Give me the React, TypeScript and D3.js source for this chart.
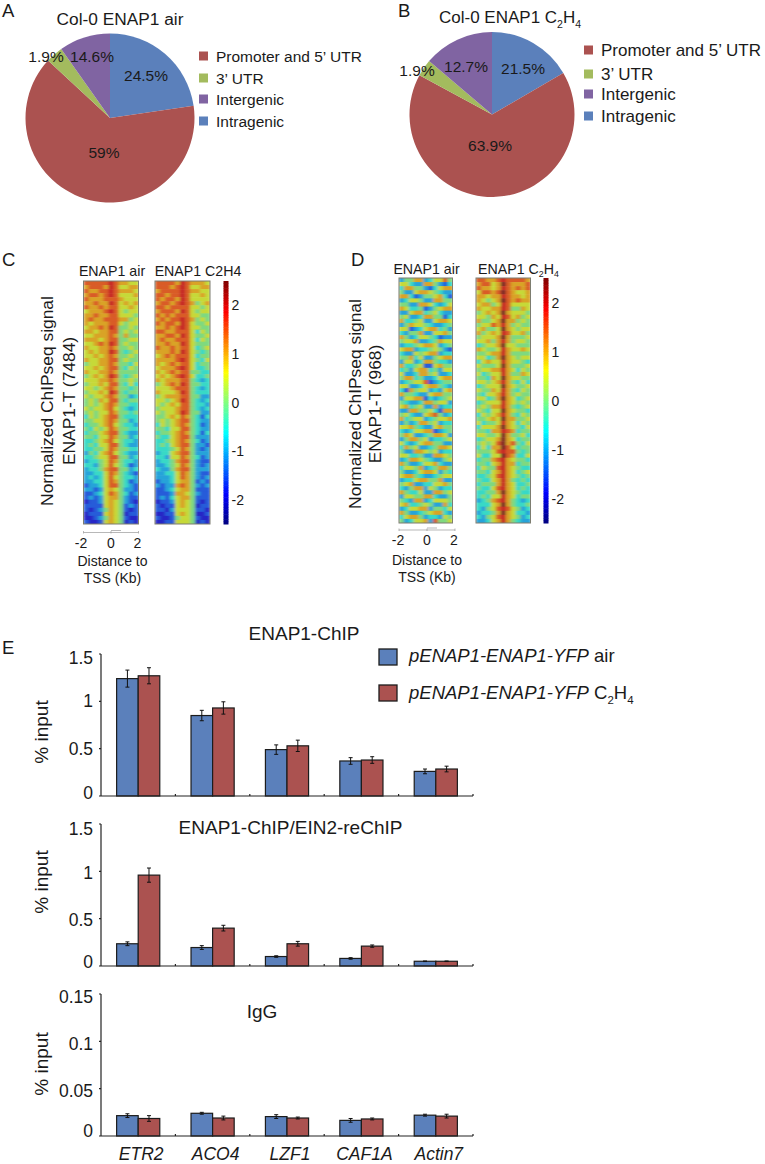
import React, { useEffect, useRef } from 'react';
import * as d3 from 'd3';

const FONT = '"Liberation Sans", Arial, sans-serif';

// pie slices as drawn (the printed labels do not match the drawn angles)
const sliceNames = ['Intragenic', 'Promoter and 5\u2019 UTR', '3\u2019 UTR', 'Intergenic'];
const sliceColors = ['#5b80bb', '#ab5250', '#a3bb5e', '#8064a2'];
const legendOrder = [1, 2, 3, 0];
const pieAShares = [22.7, 64.2, 3.3, 9.8];
const pieBShares = [16.6, 66.3, 3.3, 13.8];
const pieALabels = ['24.5%', '59%', '1.9%', '14.6%'];
const pieBLabels = ['21.5%', '63.9%', '1.9%', '12.7%'];

const genes = ['ETR2', 'ACO4', 'LZF1', 'CAF1A', 'Actin7'];
const chipAir = [1.24, 0.85, 0.49, 0.37, 0.26];
const chipAirErr = [0.09, 0.055, 0.05, 0.035, 0.025];
const chipEth = [1.27, 0.93, 0.53, 0.38, 0.285];
const chipEthErr = [0.085, 0.065, 0.06, 0.035, 0.03];
const rechipAir = [0.235, 0.195, 0.1, 0.08, 0.05];
const rechipAirErr = [0.02, 0.02, 0.008, 0.008, 0.003];
const rechipEth = [0.96, 0.4, 0.235, 0.21, 0.05];
const rechipEthErr = [0.075, 0.03, 0.025, 0.012, 0.003];
const iggAir = [0.0215, 0.024, 0.0205, 0.0165, 0.022];
const iggAirErr = [0.002, 0.001, 0.002, 0.002, 0.001];
const iggEth = [0.0185, 0.019, 0.019, 0.018, 0.021];
const iggEthErr = [0.003, 0.002, 0.001, 0.001, 0.002];

const distanceTicks = [-2, 0, 2];
const colorTicks = [-2, -1, 0, 1, 2];
const jetStops = ['#00007f', '#0000ff', '#007fff', '#00ffff', '#7fff7f', '#ffff00', '#ff7f00', '#ff0000', '#7f0000'];

// by-eye reading of the heatmaps, one string per row band, one char per column (-2 kb to +2 kb)
// char is a level: 0 = -2.5, 5 = 0, a = 2.5, steps of 0.5
const heatC1 = [
  '88888987766', '78887986677', '87788987776', '78878986667', '87778887666', '77877986767',
  '87787886676', '67778986566', '77877886665', '78778887756', '76777886566', '67787985565',
  '77677885656', '66777875755', '77767885566', '66787985655', '76677875565', '67677985456',
  '66767875565', '76677885655', '56677875546', '66767885465', '76677875555', '56767985456',
  '66677875565', '56676885464', '66567875545', '56676985455', '65667875534', '56576885455',
  '56567875544', '65667865434', '56566875545', '46567885444', '55667875534', '45567865443',
  '54656875544', '45567885433', '55466875534', '44567865443', '45466885433', '44556875544',
  '35467865433', '44566885534', '34456875443', '44356865423', '34457885534', '33446875432',
  '34346865443', '33446875423', '23346885432', '33236765332', '22346875423', '23236775322',
  '12236765321', '22226765232', '21235765212', '12226765122', '11235765211', '21126765121',
];
const heatC2 = [
  '88887987776', '88878986677', '78888987766', '88788986676', '87887986666', '78878987567',
  '88788886656', '78887986566', '87878886655', '78788987565', '87887986556', '77878986655',
  '88778886465', '77887986556', '78778886465', '77877986555', '87787886456', '77787986545',
  '67878886455', '77778986546', '76787886455', '67778986445', '76787885544', '67678986445',
  '76777885434', '56787985544', '66678885434', '76667985444', '56777885533', '66567985434',
  '65676885443', '56667885434', '65667985533', '55676875424', '56567885433', '46567875423',
  '55466885433', '45567875424', '54467885333', '44567875423', '45467885332', '44456875323',
  '34467885333', '44366875423', '34457885322', '33456875323', '43357885333', '33446875322',
  '33346875323', '23346775232', '32337875323', '22346775222', '22237765322', '23246775222',
  '12236765212', '21226765122', '22136665221', '11226765112', '21125665211', '11226665121',
];
const heatD1 = [
  '35577346685', '66433775324', '47755324677', '53367765433', '77423556742', '34665337755',
  '55337764346', '76445235677', '33677456433', '56334775524', '74456336776', '35766543345',
  '66234677453', '43557336675', '75346654233', '56673345766', '34456776345', '67734456532',
  '43365677344', '55746335677', '36634775443', '74456226755', '45367745366', '63347756334',
  '57745334677', '34566823455', '66334677543', '42756634367', '75543367755', '36677243456',
  '54334775663', '67456337344', '33775564277', '56433678534', '74566345667', '35347756344',
  '66754336755', '43466772345', '57633457763', '35775634456', '64346775533', '47563345776',
  '53377656344', '66445337765', '34776543356', '75334667433', '46657345775', '53346776354',
  '67754334566', '34467755733', '56733446675', '43577365344', '75446337756', '36655774335',
  '54377346665', '67445653374', '34667735546', '75334567743', '46775344365', '53466738556',
];
const heatD2 = [
  '88778988887', '78867a87778', '87767987878', '68878a87667', '77677987767', '76567a87877',
  '67756986666', '76677985576', '56767a76665', '66576986756', '75567a77565', '56687975655',
  '67556a76566', '75676986675', '56667a75556', '66757975665', '45667a66555', '76556976676',
  '55677975555', '66457a76566', '46766976654', '65556a75556', '56677976465', '64566975576',
  '55476a76655', '66567975464', '45666a76556', '65576975465', '54667975655', '66457a76456',
  '45666976565', '56577975456', '65466a76554', '46567975465', '55676a77556', '64556976465',
  '46667a76546', '55477987455', '66556a75564', '45667a76455', '56568a78546', '46477a86455',
  '55568988545', '64466a87446', '45578976554', '55467977455', '46558976544', '55467976456',
  '44568976545', '54467975454', '45557976445', '54468976454', '44557a76544', '45466976455',
  '34578975434', '44467a75445', '43568986534', '34457a76443', '43568976534', '33467975433',
];

const add = (g: any, x: number, y: number, str: string, size: number, anchor = 'start', italic = false) =>
  g.append('text')
    .attr('x', x).attr('y', y)
    .attr('font-size', size)
    .attr('text-anchor', anchor)
    .attr('font-style', italic ? 'italic' : 'normal')
    .attr('fill', '#1a1a1a')
    .text(str);

// C2H4 with lowered digits
const addChem = (t: any, size: number) => {
  const sub = (s: string) => t.append('tspan').attr('font-size', size * 0.62).attr('dy', size * 0.28).text(s);
  const up = (s: string) => t.append('tspan').attr('font-size', size).attr('dy', -size * 0.28).text(s);
  t.append('tspan').text('C');
  sub('2');
  up('H');
  sub('4');
};

const drawPie = (svg: any, cx: number, cy: number, r: number, shares: number[], labels: string[], labelPos: number[][], fontSize: number) => {
  const pie = d3.pie<number>().sort(null).value((d) => d);
  const arc = d3.arc<any>().innerRadius(0).outerRadius(r);
  const g = svg.append('g').attr('transform', `translate(${cx},${cy})`);
  g.selectAll('path').data(pie(shares)).enter().append('path')
    .attr('d', arc)
    .attr('fill', (_: any, i: number) => sliceColors[i]);
  labels.forEach((l, i) => add(g, labelPos[i][0], labelPos[i][1], l, fontSize, 'middle'));
};

const drawLegend = (svg: any, x: number, ys: number[], fontSize: number) => {
  legendOrder.forEach((s, i) => {
    svg.append('rect').attr('x', x).attr('y', ys[i] - 4.5).attr('width', 9).attr('height', 9).attr('fill', sliceColors[s]);
    add(svg, x + 17, ys[i] + fontSize * 0.36, sliceNames[s], fontSize);
  });
};

const jet = d3.scaleLinear<string>()
  .domain(jetStops.map((_, i) => -2.5 + (i * 5) / (jetStops.length - 1)))
  .range(jetStops)
  .clamp(true);

// the printed heatmaps look duller than their colorbar
const heatFill = (v: number) => d3.interpolateRgb(jet(v), '#7f7f7f')(0.3);

const drawHeat = (svg: any, x0: number, x1: number, y0: number, y1: number, rows: string[]) => {
  const cells = rows.map((r) => Array.from(r, (c) => (parseInt(c, 16) - 5) * 0.5));
  const x = d3.scaleBand<number>().domain(d3.range(cells[0].length)).range([x0, x1]);
  const y = d3.scaleBand<number>().domain(d3.range(cells.length)).range([y0, y1]);
  const clipId = `clip${Math.round(x0)}`;
  svg.append('clipPath').attr('id', clipId).append('rect')
    .attr('x', x0).attr('y', y0).attr('width', x1 - x0).attr('height', y1 - y0);
  const g = svg.append('g').attr('clip-path', `url(#${clipId})`).append('g').attr('filter', 'url(#soft)');
  cells.forEach((row, ri) => {
    row.forEach((v, ci) => {
      g.append('rect')
        .attr('x', x(ci)).attr('y', y(ri))
        .attr('width', x.bandwidth() + 0.5).attr('height', y.bandwidth() + 0.5)
        .attr('fill', heatFill(v));
    });
  });
  svg.append('rect').attr('x', x0).attr('y', y0).attr('width', x1 - x0).attr('height', y1 - y0)
    .attr('fill', 'none').attr('stroke', '#7d7d70').attr('stroke-width', 1);
};

const drawColorbar = (svg: any, x0: number, y0: number, y1: number) => {
  const y = d3.scaleLinear().domain([-2.5, 2.5]).range([y1, y0]);
  d3.range(-2.5, 2.5, 0.05).forEach((v) => {
    svg.append('rect').attr('x', x0).attr('width', 5)
      .attr('y', y(v + 0.05)).attr('height', y(v) - y(v + 0.05) + 0.5)
      .attr('fill', jet(v + 0.025));
  });
  colorTicks.forEach((t) => {
    const label = t < 0 ? `-${-t}` : `${t}`;
    add(svg, x0 + 8, y(t) + 5, label, 14);
  });
};

const drawDistance = (svg: any, x0: number, x1: number, axisY: number, labelXs: number[], textX: number, textDy: number) => {
  const x = d3.scaleLinear().domain([-2, 2]).range([x0, x1]);
  const g = svg.append('g').attr('stroke', '#999').attr('fill', 'none').attr('stroke-width', 0.7);
  g.append('line').attr('x1', x0).attr('x2', x1).attr('y1', axisY).attr('y2', axisY);
  distanceTicks.forEach((t) => {
    g.append('line').attr('x1', x(t)).attr('x2', x(t)).attr('y1', axisY - 1.5).attr('y2', axisY + 1);
  });
  g.append('line').attr('x1', x(0)).attr('x2', x(0) + 10).attr('y1', axisY - 2).attr('y2', axisY - 2);
  distanceTicks.forEach((t, i) => add(svg, labelXs[i], axisY + 15, `${t}`, 14, 'middle'));
  add(svg, textX, axisY + textDy, 'Distance to', 14, 'middle');
  add(svg, textX, axisY + textDy + 17, 'TSS (Kb)', 14, 'middle');
};

const rotated = (svg: any, x: number, y: number, str: string, size: number) =>
  svg.append('text')
    .attr('transform', `translate(${x},${y}) rotate(-90)`)
    .attr('text-anchor', 'middle')
    .attr('font-size', size)
    .attr('fill', '#1a1a1a')
    .text(str);

const drawBars = (
  svg: any, top: number, bottom: number, yMax: number, ticks: number[], labelNudge: number[],
  air: number[], airErr: number[], eth: number[], ethErr: number[],
) => {
  const x0 = d3.scaleBand<string>().domain(genes).range([101, 473]).paddingInner(0.42).paddingOuter(0.21);
  const y = d3.scaleLinear().domain([0, yMax]).range([bottom, top]);
  const w = x0.bandwidth() / 2;

  const series = [
    { vals: air, errs: airErr, color: sliceColors[0], dx: 0 },
    { vals: eth, errs: ethErr, color: sliceColors[1], dx: w },
  ];
  series.forEach((s) => {
    genes.forEach((gene, i) => {
      const bx = (x0(gene) as number) + s.dx;
      svg.append('rect')
        .attr('x', bx).attr('y', y(s.vals[i]))
        .attr('width', w).attr('height', bottom - y(s.vals[i]))
        .attr('fill', s.color).attr('stroke', '#1c1c1c').attr('stroke-width', 1.2);
    });
  });
  series.forEach((s) => {
    genes.forEach((gene, i) => {
      const cx = (x0(gene) as number) + s.dx + w / 2;
      const hi = y(s.vals[i] + s.errs[i]);
      const lo = y(s.vals[i] - s.errs[i]);
      const path = `M${cx - 2},${hi}H${cx + 2}M${cx},${hi}V${lo}M${cx - 2},${lo}H${cx + 2}`;
      svg.append('path').attr('d', path).attr('stroke', '#111').attr('stroke-width', 1).attr('fill', 'none');
    });
  });

  // axes
  const step = x0.step();
  const ax = svg.append('g').attr('stroke', '#222').attr('stroke-width', 1.2).attr('fill', 'none');
  ax.append('line').attr('x1', 101).attr('x2', 473).attr('y1', bottom).attr('y2', bottom);
  ax.append('line').attr('x1', 101).attr('x2', 101).attr('y1', top).attr('y2', bottom);
  genes.forEach((_, i) => {
    const tx = 101 + (i + 1) * step;
    ax.append('line').attr('x1', tx).attr('x2', tx).attr('y1', bottom).attr('y2', bottom - 2);
  });
  ticks.forEach((t, i) => {
    ax.append('line').attr('x1', 101).attr('x2', 99).attr('y1', y(t)).attr('y2', y(t));
    add(svg, 93, y(t) + 6 + labelNudge[i], `${t}`, 17.5, 'end');
  });
  return x0;
};

export default function App() {
  const svgRef = useRef<SVGSVGElement | null>(null);

  useEffect(() => {
    if (!svgRef.current) return;
    const svg = d3.select(svgRef.current);
    svg.selectAll('*').remove();
    svg.attr('font-family', FONT);

    const soft = svg.append('defs').append('filter').attr('id', 'soft')
      .attr('x', '-5%').attr('y', '-5%').attr('width', '110%').attr('height', '110%');
    soft.append('feGaussianBlur').attr('stdDeviation', '1.4 0.4');

    // panel letters
    add(svg, 2, 17, 'A', 18.5);
    add(svg, 398, 17, 'B', 18.5);
    add(svg, 2, 266, 'C', 18.5);
    add(svg, 351, 266, 'D', 18.5);
    add(svg, 2, 654, 'E', 18.5);

    // pies
    add(svg, 120, 25, 'Col-0 ENAP1 air', 17.3, 'middle');
    const titleB = add(svg, 439, 23, 'Col-0 ENAP1 ', 17);
    addChem(titleB, 17);
    drawPie(svg, 110, 118, 84.5, pieAShares, pieALabels, [[36, -37], [-6, 40], [-64, -56], [-18, -56]], 15.5);
    drawPie(svg, 492, 114.5, 82.5, pieBShares, pieBLabels, [[31, -41], [-2, 36], [-75, -39], [-26, -43]], 15.5);
    drawLegend(svg, 199, [56, 78, 99, 121], 15.5);
    drawLegend(svg, 584, [50, 74, 94, 116], 17);

    // heatmaps C
    add(svg, 112, 275.5, 'ENAP1 air', 14.2, 'middle');
    add(svg, 198, 275.5, 'ENAP1 C2H4', 14.2, 'middle');
    drawHeat(svg, 83.5, 138.5, 281, 524, heatC1);
    drawHeat(svg, 155, 210, 281, 524, heatC2);
    drawColorbar(svg, 223.5, 281, 524);
    drawDistance(svg, 83.5, 138.5, 532.5, [81, 111, 137.5], 112.5, 33.5);
    rotated(svg, 53, 401, 'Normalized ChIPseq signal', 17.4);
    rotated(svg, 75, 401, 'ENAP1-T (7484)', 17.4);

    // heatmaps D
    add(svg, 426.5, 273.5, 'ENAP1 air', 14.2, 'middle');
    const titleD = add(svg, 478, 273.5, 'ENAP1 ', 14.2);
    addChem(titleD, 14.2);
    drawHeat(svg, 399, 452.5, 278, 523, heatD1);
    drawHeat(svg, 476, 530.5, 278, 523, heatD2);
    drawColorbar(svg, 543.5, 278, 523);
    drawDistance(svg, 399, 455, 530, [398, 427, 454], 427, 35);
    rotated(svg, 361, 404, 'Normalized ChIPseq signal', 17.4);
    rotated(svg, 381, 404, 'ENAP1-T (968)', 17.4);

    // bars
    add(svg, 304, 640, 'ENAP1-ChIP', 19, 'middle');
    drawBars(svg, 654, 796, 1.5, [0, 0.5, 1, 1.5], [-3, 0, 0, 4], chipAir, chipAirErr, chipEth, chipEthErr);
    rotated(svg, 48, 732, '% input', 19);

    add(svg, 290.5, 834, 'ENAP1-ChIP/EIN2-reChIP', 19, 'middle');
    drawBars(svg, 824, 966, 1.5, [0, 0.5, 1, 1.5], [-4, 1, 2, 5], rechipAir, rechipAirErr, rechipEth, rechipEthErr);
    rotated(svg, 48, 882, '% input', 19);

    add(svg, 262, 1018, 'IgG', 19, 'middle');
    const xBand = drawBars(svg, 994, 1136, 0.15, [0, 0.05, 0.1, 0.15], [-5, 2, 3, 3], iggAir, iggAirErr, iggEth, iggEthErr);
    rotated(svg, 48, 1064, '% input', 19);
    genes.forEach((g) => {
      add(svg, (xBand(g) as number) + xBand.bandwidth() / 2 + 3, 1160, g, 17.5, 'middle', true);
    });

    // bar legend
    const legendRows = [{ y: 649, color: sliceColors[0] }, { y: 685, color: sliceColors[1] }];
    legendRows.forEach((l) => {
      svg.append('rect').attr('x', 379).attr('y', l.y).attr('width', 18).attr('height', 16)
        .attr('fill', l.color).attr('stroke', '#1c1c1c').attr('stroke-width', 1.3);
    });
    const l1 = add(svg, 409, 662, 'pENAP1-ENAP1-YFP', 18.5, 'start', true);
    l1.append('tspan').attr('font-style', 'normal').text(' air');
    const l2 = add(svg, 409, 699, 'pENAP1-ENAP1-YFP', 18.5, 'start', true);
    const l2b = l2.append('tspan').attr('font-style', 'normal');
    l2b.append('tspan').text(' ');
    addChem(l2b, 18.5);
  }, []);

  return (
    <svg
      ref={svgRef}
      width={765}
      height={1164}
      style={{ position: 'absolute', left: 0, top: 0, background: '#fff' }}
    />
  );
}
